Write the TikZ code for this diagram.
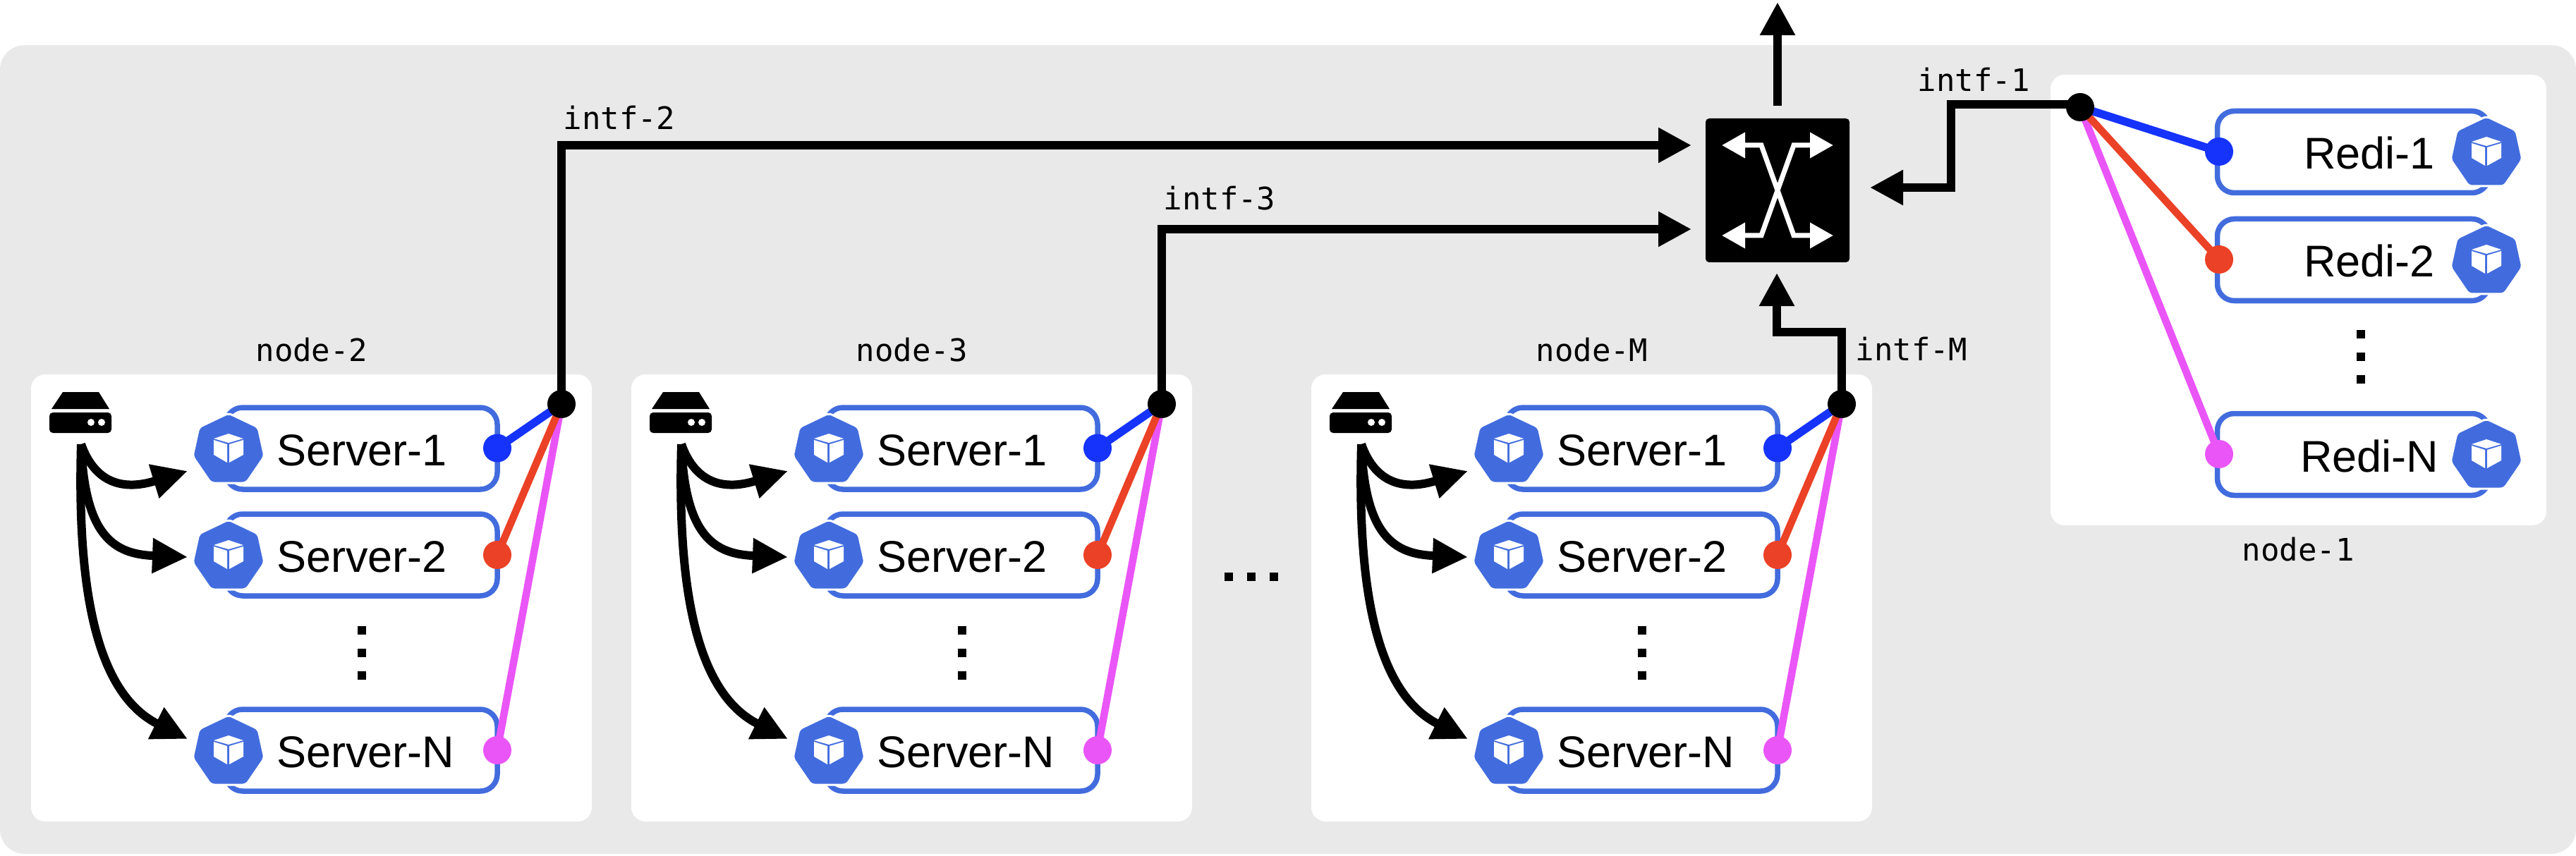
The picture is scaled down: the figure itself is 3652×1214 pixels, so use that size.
\documentclass[tikz,border=0pt]{standalone}
\usepackage{fontspec}
\usetikzlibrary{arrows.meta,calc}
\newfontfamily\sansf{Liberation Sans}
\newfontfamily\monof{DejaVu Sans Mono}
\definecolor{pagegray}{HTML}{E9E9E9}
\definecolor{kblue}{HTML}{426CDE}
\definecolor{dotblue}{HTML}{1633FB}
\definecolor{dotred}{HTML}{EB4126}
\definecolor{dotmag}{HTML}{EA55F7}
\pgfdeclarelayer{top}
\pgfsetlayers{main,top}
\tikzset{
  x=1pt,y=-1pt,
  panel/.style={fill=white,rounded corners=20pt,inner sep=0pt,outer sep=0pt,minimum width=#1},
  podbox/.style={draw=kblue,line width=7.5pt,fill=white,rounded corners=24pt,inner sep=0pt,minimum width=385pt,minimum height=116pt},
  podtext/.style={font=\fontsize{63}{63}\selectfont\sansf,inner sep=0pt},
  monotext/.style={font=\fontsize{44}{44}\selectfont\monof,inner sep=0pt,anchor=base},
  vdot/.style={circle,inner sep=0pt,minimum size=40pt,fill=#1},
  link/.style={draw=#1,line width=10.5pt},
  bigarrow/.style={line width=12pt,-{Triangle[length=47pt,width=47pt]}},
  curvearrow/.style={line width=12pt,-{Triangle[length=50pt,width=47pt]}},
  swarrow/.style={draw=white,line width=7pt,-{Triangle[length=33pt,width=35pt]}},
  hexagon/.style={fill=kblue,draw=white,line width=3pt,rounded corners=5pt},
  cube/.style={fill=white},
  sq/.style={fill=black,inner sep=0pt,minimum size=12pt}
}
\newcommand{\kube}[2]{%
  \begin{scope}[shift={(#1,#2)}]
    \path[hexagon] (0,8) -- (42,28) -- (51,69) -- (25,107) -- (-25,107) -- (-51,69) -- (-42,28) -- cycle;
    \path[cube] (0,37) -- (21,44) -- (0,50) -- (-21,44) -- cycle;
    \path[cube] (-21,46) -- (-2,52) -- (-2,78) -- (-21,67) -- cycle;
    \path[cube] (1,52) -- (21,46) -- (21,67) -- (1,78) -- cycle;
  \end{scope}}
\begin{document}
\begin{tikzpicture}
\useasboundingbox (0,0) rectangle (3652,1214);
\node[fill=pagegray,rounded corners=35pt,inner sep=0pt,minimum width=3652pt,minimum height=1147pt] (bg) at (1826,637.5) {};

% worker machines
\foreach \n/\dx/\nx in {2/0/442,3/851/1303,M/1815/2265}{
  \begin{scope}[shift={(\dx,0)}]
    \node[panel=795pt,minimum height=634pt] (panel\n) at (441.5,848) {};
    \node[monotext] (lab\n) at (442,512) {node-\n};
    % disk icon
    \fill (89,556) -- (140,556) -- (155,580) -- (73,580) -- cycle;
    \node[fill,rounded corners=5pt,inner sep=0pt,minimum width=88pt,minimum height=29pt] (disk\n) at (114,599.5) {};
    \fill[white] (129,599) circle (5);
    \fill[white] (144,599) circle (5);
    \coordinate (src\n) at (115,630);
    \foreach \k/\lab/\T in {1/Server-1/578,2/Server-2/729,N/Server-N/1006}{
      \node[podbox] (box\n\k) at (512.5,\T+58) {};
      \kube{324}{\T}
      \node[podtext,anchor=base west] (txt\n\k) at (392,\T+82) {\lab};
    }
    \foreach \y in {894,926,958}{\node[sq] at (513,\y) {};}
    \begin{pgfonlayer}{top}
      \node[vdot=black] (hub\n) at (796,573) {};
      \node[vdot=dotblue] (d\n1) at (705,635.5) {};
      \node[vdot=dotred] (d\n2) at (705,787) {};
      \node[vdot=dotmag] (d\n N) at (705,1064) {};
    \end{pgfonlayer}
    \draw[link=dotmag] (d\n N.center) -- (hub\n.center);
    \draw[link=dotred] (d\n2.center) -- (hub\n.center);
    \draw[link=dotblue,line width=11.5pt] (d\n1.center) -- (hub\n.center);
    \coordinate (t\n1) at (266,668);
    \coordinate (t\n2) at (266,790);
    \coordinate (t\n3) at (266,1048);
    \draw[curvearrow] (src\n) .. controls +(25,70) and +(-72,22) .. (t\n1);
    \draw[curvearrow] (src\n) .. controls +(5,130) and +(-105,-4) .. (t\n2);
    \draw[curvearrow] (src\n) .. controls +(-6,205) and +(-130,-65) .. (t\n3);
  \end{scope}
}
\foreach \x in {1742,1774,1806}{\node[sq] at (\x,818) {};}

% redis machine
\node[panel=703pt,minimum height=639pt] (panel1) at (3258.5,425.5) {};
\node[monotext] (lab1) at (3258,795) {node-1};
\foreach \k/\lab/\T in {1/Redi-1/157,2/Redi-2/310,N/Redi-N/586}{
  \node[podbox] (rbox\k) at (3336,\T+58.5) {};
  \kube{3525}{\T}
  \node[podtext,anchor=base] (rtxt\k) at (3359,\T+83) {\lab};
}
\foreach \y in {474,506,538}{\node[sq] at (3347,\y) {};}
\begin{pgfonlayer}{top}
  \node[vdot=black] (hub1) at (2949,152) {};
  \node[vdot=dotblue] (r1) at (3146,215) {};
  \node[vdot=dotred] (r2) at (3146,368) {};
  \node[vdot=dotmag] (rN) at (3146,644) {};
\end{pgfonlayer}
\draw[link=dotmag] (rN.center) -- (hub1.center);
\draw[link=dotred] (r2.center) -- (hub1.center);
\draw[link=dotblue,line width=11.5pt] (r1.center) -- (hub1.center);

% switch
\node[fill=black,rounded corners=5pt,inner sep=0pt,minimum size=204pt] (sw) at (2520,270) {};
\coordinate (tipA) at (2441,206); \coordinate (tipB) at (2599,206);
\coordinate (tipC) at (2441,334); \coordinate (tipD) at (2599,334);
\draw[swarrow,{Triangle[length=33pt,width=35pt]}-{Triangle[length=33pt,width=35pt]}] (tipA) -- (2497,206) -- (2543,334) -- (tipD);
\draw[swarrow,{Triangle[length=33pt,width=35pt]}-{Triangle[length=33pt,width=35pt]}] (tipB) -- (2543,206) -- (2497,334) -- (tipC);

% uplinks
\coordinate (in2) at (2398,206);
\coordinate (in3) at (2398,325);
\coordinate (in1) at (2651,266);
\coordinate (inM) at (2519,387);
\coordinate (out) at (2520,3);
\coordinate (outS) at (2520,150);
\coordinate (bend1) at (2766,148);
\coordinate (bendM) at (2611,471);
\draw[bigarrow] (hub2.center) |- (in2);
\draw[bigarrow] (hub3.center) |- (in3);
\draw[bigarrow] (hub1.center |- bend1) -- (bend1) |- (in1);
\draw[bigarrow] (hubM.center) -- (bendM) -| (inM);
\draw[bigarrow] (outS) -- (out);

\node[monotext] (i2) at (878,184) {intf-2};
\node[monotext] (i3) at (1729,298) {intf-3};
\node[monotext] (i1) at (2798,130) {intf-1};
\node[monotext] (iM) at (2710,511) {intf-M};
\end{tikzpicture}
\end{document}
